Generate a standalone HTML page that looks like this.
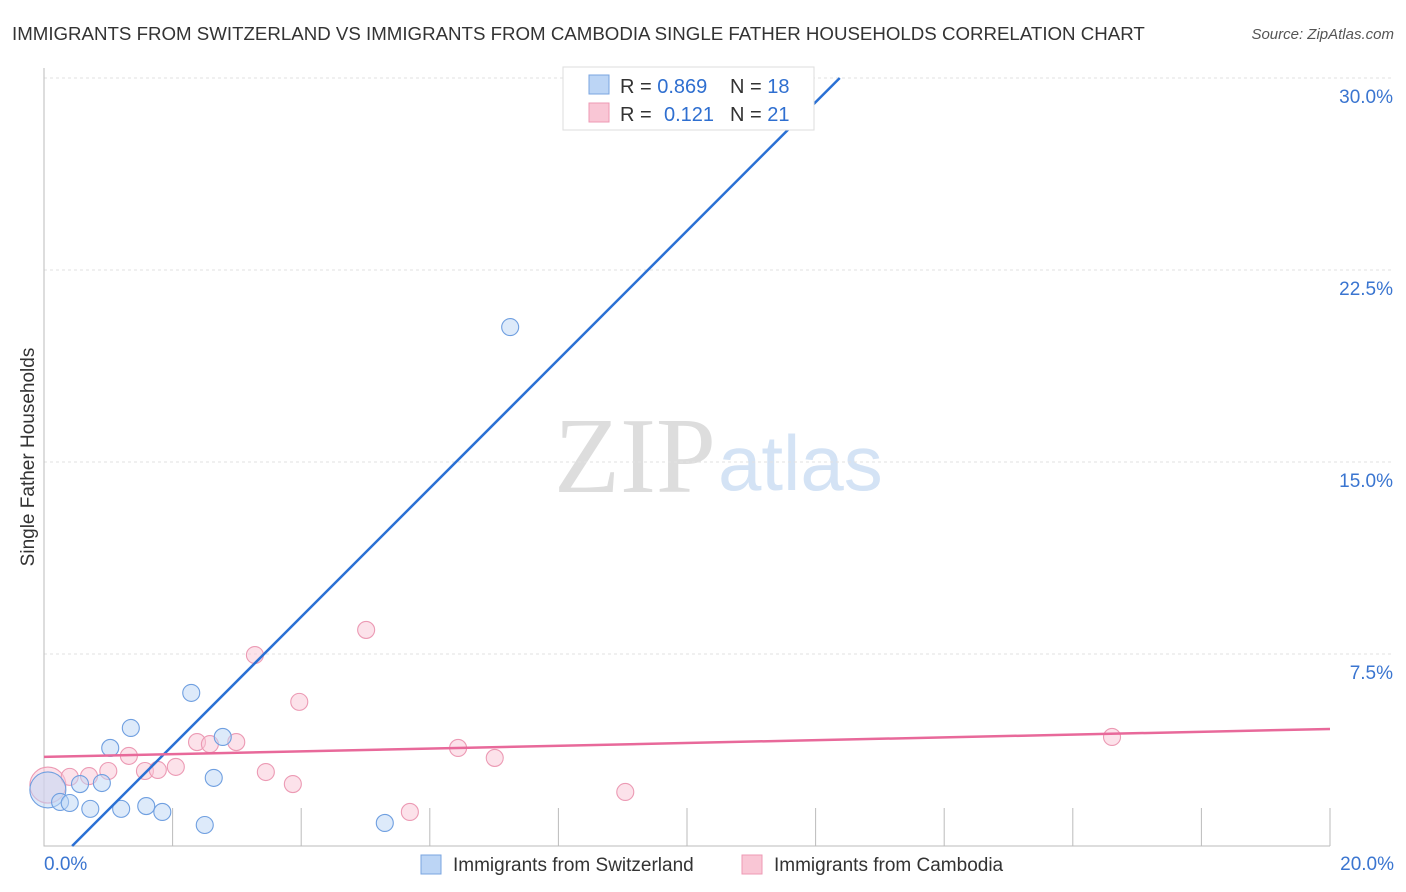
<!DOCTYPE html>
<html><head><meta charset="utf-8"><style>
body{margin:0;background:#fff;font-family:"Liberation Sans",sans-serif}
svg{display:block}
</style></head><body>
<svg id="chart" width="1406" height="892">
<text x="12" y="40" font-size="18.7" fill="#333">IMMIGRANTS FROM SWITZERLAND VS IMMIGRANTS FROM CAMBODIA SINGLE FATHER HOUSEHOLDS CORRELATION CHART</text>
<text x="1394" y="39" font-size="15" fill="#555" font-style="italic" text-anchor="end">Source: ZipAtlas.com</text>
<text x="716" y="492" font-size="108" font-family="Liberation Serif,serif" fill="#ddd" text-anchor="end">ZIP</text>
<text x="718" y="490" font-size="78" fill="#d4e3f5">atlas</text>
<text transform="translate(34,457) rotate(-90)" font-size="19" fill="#333" text-anchor="middle">Single Father Households</text>
<g id="grid"></g><g id="marks"></g>
<g>
<rect x="563" y="67" width="251" height="63" fill="#fff" stroke="#ddd"/>
<rect x="589" y="75" width="20" height="19" fill="#bcd5f5" stroke="#7aa5e0"/>
<rect x="589" y="103" width="20" height="19" fill="#f9c6d5" stroke="#ee99b4"/>
<text x="620" y="93" font-size="20" fill="#333">R = <tspan fill="#2f6fd0">0.869</tspan><tspan x="730">N = </tspan><tspan fill="#2f6fd0">18</tspan></text>
<text x="620" y="121" font-size="20" fill="#333">R = <tspan x="664" fill="#2f6fd0">0.121</tspan><tspan x="730">N = </tspan><tspan fill="#2f6fd0">21</tspan></text>
</g>
<g>
<rect x="421" y="855" width="20" height="19" fill="#bcd5f5" stroke="#7aa5e0"/>
<text x="453" y="871" font-size="19" fill="#333">Immigrants from Switzerland</text>
<rect x="742" y="855" width="20" height="19" fill="#f9c6d5" stroke="#ee99b4"/>
<text x="774" y="871" font-size="19" fill="#333">Immigrants from Cambodia</text>
</g>
</svg>
<script>
const yTicks=[7.5,15,22.5,30];
const yTickLabels=["7.5%","15.0%","22.5%","30.0%"];
const xTickLabels=["0.0%","20.0%"];
const swissX=[0.06,0.25,0.40,0.56,0.72,0.90,1.03,1.20,1.35,1.59,1.84,2.29,2.50,2.64,2.78,5.30,7.25,10.16];
const swissY=[2.19,1.72,1.68,2.42,1.45,2.46,3.83,1.45,4.61,1.56,1.33,5.98,0.82,2.66,4.26,0.90,20.27,30.0];
const cambX=[0.06,0.40,0.70,1.00,1.32,1.57,1.77,2.05,2.38,2.58,2.99,3.28,3.45,3.87,3.97,5.01,5.69,6.44,7.01,9.04,16.61];
const cambY=[2.38,2.70,2.73,2.93,3.52,2.93,2.97,3.09,4.06,3.98,4.06,7.46,2.89,2.42,5.63,8.44,1.33,3.83,3.44,2.11,4.26];
const swissTrend=[2.513,-1.10];
const cambTrend=[0.0545,3.48];
const X=v=>44+v/20*1286, Y=v=>846-v*25.6;
const NS="http://www.w3.org/2000/svg";
const grid=document.getElementById('grid'), marks=document.getElementById('marks');
function mk(p,tag,a){const e=document.createElementNS(NS,tag);for(const k in a)e.setAttribute(k,a[k]);p.appendChild(e);return e;}
yTicks.forEach((t,i)=>{
 const l=mk(grid,'line',{x1:44,x2:1394,y1:Y(t),y2:Y(t),stroke:'#e2e2e2','stroke-dasharray':'3,3'});
 
 
 const tx=mk(grid,'text',{x:1393,y:Y(t)+25,'font-size':19,fill:'#3a75d0','text-anchor':'end'});
 tx.textContent=yTickLabels[i];
 
 
});
const ax=mk(grid,'path',{d:'M44,68V846H1330',stroke:'#bbb',fill:'none'});


for(let v=2;v<=20;v+=2){const t=mk(grid,'line',{x1:X(v),x2:X(v),y1:808,y2:846,stroke:'#bbb'});
 
 }
[[0,44,'start'],[20,1394,'end']].forEach((d,i)=>{const t=mk(grid,'text',{x:d[1],y:870,'font-size':19,fill:'#3a75d0','text-anchor':d[2]});t.textContent=xTickLabels[i];
 
 });
function pts(xs,ys,fill,stroke,name){xs.forEach((x,i)=>{const c=mk(marks,'circle',{cx:X(x),cy:Y(ys[i]),r:i===0?18:8.5,fill:fill,'fill-opacity':0.5,stroke:stroke,'stroke-width':1.1});
 
 });}
pts(cambX,cambY,'#f9c6d5','#ec9ab4','point-cambodia');
pts(swissX,swissY,'#bcd5f5','#6f9fe0','point-switzerland');
const x0=(0-swissTrend[1])/swissTrend[0], x1=(30-swissTrend[1])/swissTrend[0];
const bl=mk(marks,'line',{x1:X(x0),y1:Y(0),x2:X(x1),y2:Y(30),stroke:'#2a70d4','stroke-width':2.5});


const pl=mk(marks,'line',{x1:X(0),y1:Y(cambTrend[1]),x2:X(20),y2:Y(cambTrend[1]+20*cambTrend[0]),stroke:'#e8699a','stroke-width':2.5});


</script>
</body></html>
